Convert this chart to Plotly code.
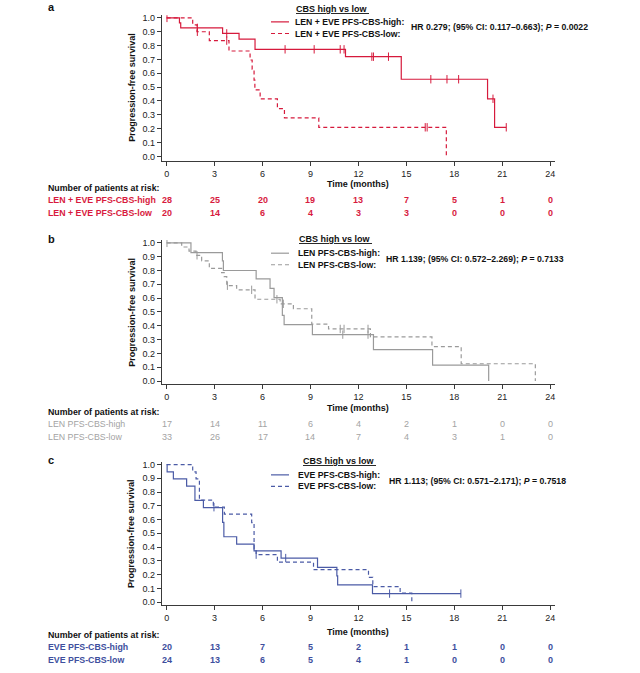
import plotly.graph_objects as go

W, H = 640, 673
FONT = "Arial, Liberation Sans, sans-serif"

# ---------------- data ----------------
risk_times = [0, 3, 6, 9, 12, 15, 18, 21, 24]
y_ticks = [0.0, 0.1, 0.2, 0.3, 0.4, 0.5, 0.6, 0.7, 0.8, 0.9, 1.0]

# Panel a: LEN + EVE
a_high_t = [0.8, 0.88, 3.5, 4.53, 5.53, 11.19, 14.68, 20.08, 20.52]
a_high_s = [0.964, 0.928, 0.888, 0.847, 0.773, 0.72, 0.557, 0.416, 0.21]
a_high_cens = [0.02, 1.92, 3.76, 7.41, 9.23, 10.86, 11.1, 12.84, 12.94, 13.88, 16.53, 17.54, 18.27, 20.42, 21.25]
a_low_t = [1.63, 1.9, 2.67, 3.9, 5.22, 5.35, 5.47, 5.52, 5.85, 6.93, 7.37, 9.52, 17.5]
a_low_s = [0.95, 0.9, 0.836, 0.761, 0.696, 0.63, 0.55, 0.48, 0.416, 0.345, 0.278, 0.21, 0.0]
a_low_cens = [1.92, 3.76, 16.18, 16.3]
a_risk_high = [28, 25, 20, 19, 13, 7, 5, 1, 0]
a_risk_low = [20, 14, 6, 4, 3, 3, 0, 0, 0]

# Panel b: LEN
b_high_t = [1.52, 3.49, 3.55, 5.6, 6.47, 6.72, 7.24, 7.35, 9.12, 12.94, 16.64, 20.15]
b_high_s = [0.93, 0.87, 0.80, 0.739, 0.671, 0.604, 0.475, 0.408, 0.336, 0.228, 0.115, 0.0]
b_high_cens = [0.02, 11.02, 12.6]
b_low_t = [0.94, 1.4, 1.84, 2.19, 2.67, 3.44, 3.6, 3.76, 4.38, 5.53, 7.1, 7.93, 9.08, 10.13, 12.75, 16.6, 18.43, 23.07]
b_low_s = [0.97, 0.94, 0.91, 0.87, 0.815, 0.785, 0.755, 0.69, 0.66, 0.592, 0.559, 0.523, 0.412, 0.377, 0.319, 0.249, 0.125, 0.0]
b_low_cens = [1.9, 3.8, 5.32, 6.9, 7.3, 10.86, 11.1, 12.6]
b_risk_high = [17, 14, 11, 6, 4, 2, 1, 0, 0]
b_risk_low = [33, 26, 17, 14, 7, 4, 3, 1, 0]

# Panel c: EVE
c_high_t = [0.03, 0.42, 1.25, 1.77, 2.3, 3.5, 3.58, 4.38, 5.47, 7.16, 9.44, 10.65, 10.7, 12.88]
c_high_s = [0.947, 0.896, 0.843, 0.74, 0.687, 0.58, 0.475, 0.422, 0.373, 0.32, 0.253, 0.19, 0.125, 0.062]
c_high_cens = [7.45, 13.95, 18.41]
c_low_t = [1.63, 1.84, 2.05, 2.92, 3.61, 5.32, 5.47, 5.6, 6.93, 9.19, 12.63, 12.9, 14.61, 15.34]
c_low_s = [0.947, 0.896, 0.742, 0.69, 0.639, 0.578, 0.386, 0.345, 0.29, 0.236, 0.18, 0.113, 0.065, 0.0]
c_low_cens = [2.96, 5.6]
c_risk_high = [20, 13, 7, 5, 2, 1, 1, 0, 0]
c_risk_low = [24, 13, 6, 5, 4, 1, 0, 0, 0]

RED, RED_T = "#d61a3c", "#d81b3e"
GRAY, GRAY_T = "#9a9a9a", "#a3a3a3"
BLUE, BLUE_T = "#4b5ba6", "#3e4f9e"

panels = [
    dict(key="a", hi=(a_high_t, a_high_s, a_high_cens), lo=(a_low_t, a_low_s, a_low_cens),
         risk=(a_risk_high, a_risk_low), color=RED, tcolor=RED_T, bold_risk=True,
         names=("LEN + EVE PFS-CBS-high", "LEN + EVE PFS-CBS-low"),
         hr="HR 0.279; (95% CI: 0.117\u20130.663); <i>P</i> = 0.0022",
         yrange=[-0.034, 1.02], y0px=155.3, unit=139.3,
         lab_y=5.5, title_x=294, title_y=6.7, leg_y=(20, 31.7), leg_tx=293, hr_x=409, hr_y=25.5,
         time_y=183.3, num_y=187, rows=(199.3, 212.7)),
    dict(key="b", hi=(b_high_t, b_high_s, b_high_cens), lo=(b_low_t, b_low_s, b_low_cens),
         risk=(b_risk_high, b_risk_low), color=GRAY, tcolor=GRAY_T, bold_risk=False,
         names=("LEN PFS-CBS-high", "LEN PFS-CBS-low"),
         hr="HR 1.139; (95% CI: 0.572\u20132.269); <i>P</i> = 0.7133",
         yrange=[-0.025, 1.02], y0px=381.3, unit=139.0,
         lab_y=238, title_x=297, title_y=238.5, leg_y=(252.7, 264.3), leg_tx=296, hr_x=384, hr_y=258.5,
         time_y=408.3, num_y=412, rows=(425, 437.5)),
    dict(key="c", hi=(c_high_t, c_high_s, c_high_cens), lo=(c_low_t, c_low_s, c_low_cens),
         risk=(c_risk_high, c_risk_low), color=BLUE, tcolor=BLUE_T, bold_risk=True,
         names=("EVE PFS-CBS-high", "EVE PFS-CBS-low"),
         hr="HR 1.113; (95% CI: 0.571\u20132.171); <i>P</i> = 0.7518",
         yrange=[-0.02, 1.02], y0px=603.7, unit=138.4,
         lab_y=461, title_x=301, title_y=461.5, leg_y=(475.7, 487.3), leg_tx=296, hr_x=386.5, hr_y=481.5,
         time_y=633.5, num_y=637, rows=(649.3, 662)),
]

X_RANGE = [-0.31, 24.3]
X_LEFT_PX, X_RIGHT_PX = 161.7, 555.0


def px(x):
    return x / W


def py(y):
    return 1 - y / H


def step_xy(t, s, cens):
    end = max(t + cens) if cens else t[-1]
    xs = [0.0] + list(t) + [end]
    ys = [1.0] + list(s) + [s[-1]]
    return xs, ys


def surv_at(t, s, tc):
    v = 1.0
    for ti, si in zip(t, s):
        if ti <= tc:
            v = si
    return v


fig = go.Figure()
annotations = []
shapes = []

for i, p in enumerate(panels):
    n = "" if i == 0 else str(i + 1)
    xa, ya = "x" + n, "y" + n
    lo_r, hi_r = p["yrange"]
    bottom_px = p["y0px"] - lo_r * p["unit"]
    top_px = p["y0px"] - hi_r * p["unit"]
    axis_common = dict(showline=True, linecolor="#3a3a3a", linewidth=1, ticks="outside",
                       ticklen=4, tickwidth=1, tickcolor="#3a3a3a", showgrid=False,
                       zeroline=False, tickfont=dict(family=FONT, size=9, color="#222"),
                       fixedrange=True)
    fig.update_layout(**{
        ("xaxis" + n): dict(domain=[px(X_LEFT_PX), px(X_RIGHT_PX)], range=X_RANGE,
                            tickvals=risk_times, anchor=ya, **axis_common),
        ("yaxis" + n): dict(domain=[py(bottom_px), py(top_px)], range=p["yrange"],
                            tickvals=y_ticks, tickformat=".1f", anchor=xa, **axis_common),
    })

    for (t, s, cens), dash, nm in ((p["hi"], "solid", p["names"][0]), (p["lo"], "4px,3px", p["names"][1])):
        xs, ys = step_xy(t, s, cens)
        fig.add_trace(go.Scatter(x=xs, y=ys, mode="lines", line=dict(shape="hv", color=p["color"],
                                 width=1.2, dash=dash), xaxis=xa, yaxis=ya, showlegend=False, name=nm))
        fig.add_trace(go.Scatter(x=cens, y=[surv_at(t, s, c) for c in cens], mode="markers",
                                 marker=dict(symbol="line-ns-open", size=6, color=p["color"],
                                             line=dict(color=p["color"], width=1)),
                                 xaxis=xa, yaxis=ya, showlegend=False, name=nm + " censored"))

    # panel letter
    annotations.append(dict(text="<b>%s</b>" % p["key"], x=px(46), y=py(p["lab_y"]), xref="paper",
                            yref="paper", xanchor="left", yanchor="middle", showarrow=False,
                            font=dict(family=FONT, size=11, color="#111")))
    # y axis title
    annotations.append(dict(text="<b>Progression-free survival</b>", x=px(131.7), y=0.5,
                            xref="paper", yref=ya, textangle=-90, xanchor="center", yanchor="middle",
                            showarrow=False, font=dict(family=FONT, size=9, color="#111")))
    # legend
    annotations.append(dict(text="<b><u>CBS high vs low\u00a0</u></b>", x=px(p["title_x"]),
                            y=py(p["title_y"]), xref="paper", yref="paper", xanchor="left",
                            yanchor="middle", showarrow=False, font=dict(family=FONT, size=9, color="#111")))
    for k, (ly, dash) in enumerate(zip(p["leg_y"], ("solid", "4px,3px"))):
        shapes.append(dict(type="line", xref="paper", yref="paper", x0=px(271), x1=px(289),
                           y0=py(ly), y1=py(ly), line=dict(color=p["color"], width=1.2, dash=dash)))
        annotations.append(dict(text="<b>%s:</b>" % p["names"][k], x=px(p["leg_tx"]), y=py(ly),
                                xref="paper", yref="paper", xanchor="left", yanchor="middle",
                                showarrow=False, font=dict(family=FONT, size=8.7, color="#111")))
    annotations.append(dict(text="<b>%s</b>" % p["hr"], x=px(p["hr_x"]), y=py(p["hr_y"]),
                            xref="paper", yref="paper", xanchor="left", yanchor="middle",
                            showarrow=False, font=dict(family=FONT, size=8.7, color="#111")))
    # x axis title
    annotations.append(dict(text="<b>Time (months)</b>", x=12, y=py(p["time_y"]), xref=xa,
                            yref="paper", xanchor="center", yanchor="middle", showarrow=False,
                            font=dict(family=FONT, size=9, color="#111")))
    # risk table
    annotations.append(dict(text="<b>Number of patients at risk:</b>", x=px(45.7), y=py(p["num_y"]),
                            xref="paper", yref="paper", xanchor="left", yanchor="middle",
                            showarrow=False, font=dict(family=FONT, size=8.8, color="#111")))
    fmt = "<b>%s</b>" if p["bold_risk"] else "%s"
    for k, (ry, vals) in enumerate(zip(p["rows"], p["risk"])):
        annotations.append(dict(text=fmt % p["names"][k], x=px(45.7), y=py(ry), xref="paper",
                                yref="paper", xanchor="left", yanchor="middle", showarrow=False,
                                font=dict(family=FONT, size=8.8, color=p["tcolor"])))
        for tt, v in zip(risk_times, vals):
            annotations.append(dict(text=fmt % v, x=tt, y=py(ry), xref=xa, yref="paper",
                                    xanchor="center", yanchor="middle", showarrow=False,
                                    font=dict(family=FONT, size=9, color=p["tcolor"])))

fig.update_layout(width=W, height=H, margin=dict(l=0, r=0, t=0, b=0), plot_bgcolor="white",
                  paper_bgcolor="white", showlegend=False, annotations=annotations, shapes=shapes,
                  font=dict(family=FONT, size=9, color="#111"))

# remove the browser's default 8px body margin so the figure fills the window exactly
fig.write_html("out.html", config={"displayModeBar": False},
               post_script="document.body.style.margin='0';document.body.style.overflow='hidden';")
